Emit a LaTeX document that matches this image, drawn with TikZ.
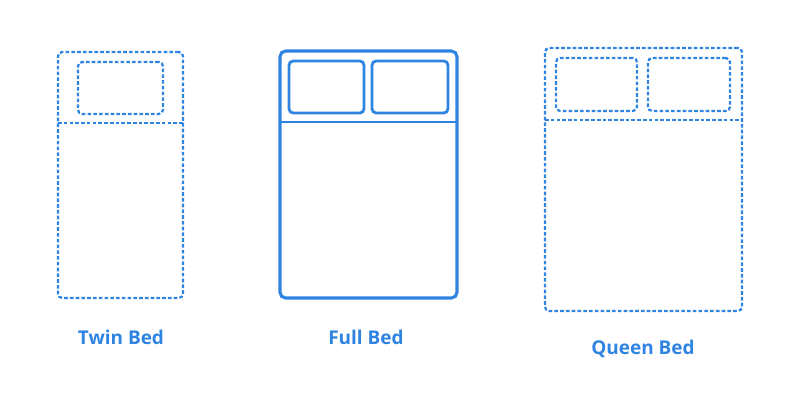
\documentclass[tikz,border=0pt]{standalone}
\usepackage{fontspec}
\setmainfont{Open Sans}
\usepackage{xcolor}
\usetikzlibrary{calc,positioning}
\definecolor{bedblue}{HTML}{2F84E2}
\tikzset{
	frame/.style={draw=bedblue, rounded corners=3pt, line width=1.6pt, dash pattern=on 2.6pt off 1.5pt, inner sep=0pt},
	solidframe/.style={draw=bedblue, rounded corners=4pt, line width=2.2pt, inner sep=0pt},
	bedlabel/.style={text=bedblue, font=\fontsize{13.5}{16}\selectfont\bfseries}
}

\begin{document}
\begin{tikzpicture}[x=0.025cm, y=-0.025cm]
                            \useasboundingbox (0,0) rectangle (800,400);
                            % twin
                            \node (twin) [frame, minimum width=125*0.025cm, minimum height=246*0.025cm] at (120.5,175) {};
                            \node (twinpillow) [frame, minimum width=85*0.025cm, minimum height=52*0.025cm] at (120.5,88) {};
                            \coordinate (twinl) at (58,123);
                            \coordinate (twinr) at (183,123);
                            \draw [frame] (twinl) -- (twinr);
                            \node (twinlabel) [bedlabel] at (121,337) {Twin Bed};
                            % full
                            \node (full) [solidframe, minimum width=177*0.025cm, minimum height=247*0.025cm] at (368.5,174.5) {};
                            \node (fullpillowa) [solidframe, rounded corners=3pt, line width=2pt, minimum width=75*0.025cm, minimum height=52*0.025cm] at (326.5,87) {};
                            \node (fullpillowb) [solidframe, rounded corners=3pt, line width=2pt, minimum width=76*0.025cm, minimum height=52*0.025cm] at (410,87) {};
                            \coordinate (fulll) at (280,122);
                            \coordinate (fullr) at (457,122);
                            \draw [solidframe, line width=1.6pt] (fulll) -- (fullr);
                            \node (fulllabel) [bedlabel] at (366,337) {Full Bed};
                            % queen
                            \node (queen) [frame, minimum width=197*0.025cm, minimum height=263*0.025cm] at (643.5,179.5) {};
                            \node (queenpillowa) [frame, minimum width=81*0.025cm, minimum height=53*0.025cm] at (596.5,84.5) {};
                            \node (queenpillowb) [frame, minimum width=82*0.025cm, minimum height=53*0.025cm] at (689,84.5) {};
                            \coordinate (queenl) at (545,120);
                            \coordinate (queenr) at (742,120);
                            \draw [frame] (queenl) -- (queenr);
                            \node (queenlabel) [bedlabel] at (643,349) {Queen Bed};
                        \end{tikzpicture}
\end{document}
